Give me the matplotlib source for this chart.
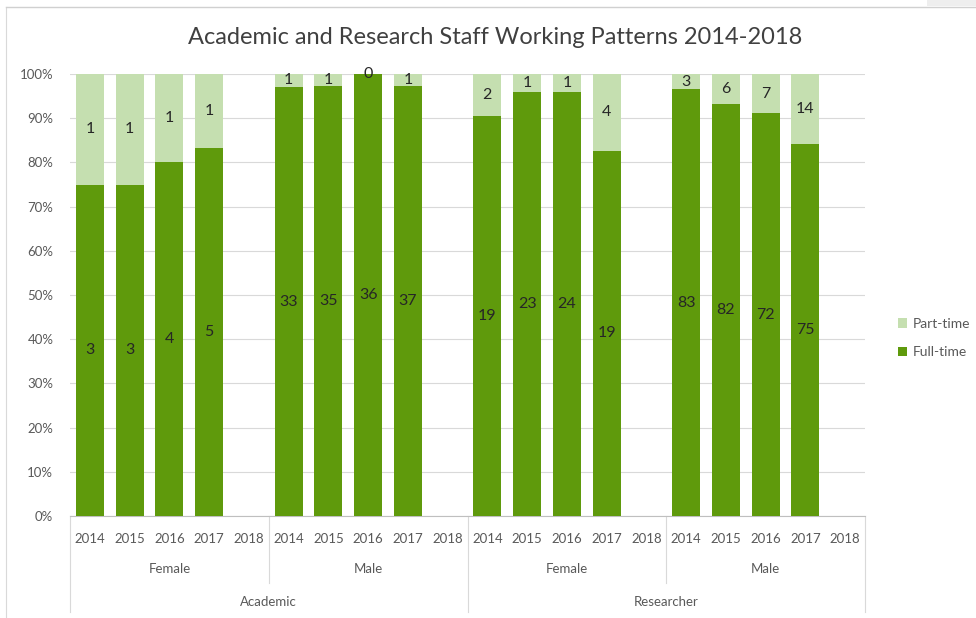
import numpy as np
import matplotlib.pyplot as plt
from matplotlib.lines import Line2D
from matplotlib.patches import Rectangle

plt.rcParams['font.family'] = ['Lato', 'DejaVu Sans']

years = ['2014', '2015', '2016', '2017', '2018']
genders = ['Female', 'Male', 'Female', 'Male']
roles = ['Academic', 'Researcher']

# counts per group (2018 has no data)
full_time = [3, 3, 4, 5, np.nan,
             33, 35, 36, 37, np.nan,
             19, 23, 24, 19, np.nan,
             83, 82, 72, 75, np.nan]
part_time = [1, 1, 1, 1, np.nan,
             1, 1, 0, 1, np.nan,
             2, 1, 1, 4, np.nan,
             3, 6, 7, 14, np.nan]

dark = '#5f9a0c'
light = '#c5dfb0'
grey = '#595959'

ft = np.array(full_time, dtype=float)
pt = np.array(part_time, dtype=float)
tot = ft + pt
ft_pct = ft / tot
pt_pct = pt / tot
x = np.arange(len(ft))

fig = plt.figure(figsize=(9.76, 6.18), dpi=100)
ax = fig.add_axes([70/976, 102/618, 795/976, 442/618])

ax.bar(x, np.nan_to_num(ft_pct), width=0.7, color=dark, label='Full-time', zorder=3)
ax.bar(x, np.nan_to_num(pt_pct), width=0.7, bottom=np.nan_to_num(ft_pct), color=light,
       label='Part-time', zorder=3)

for i in range(len(x)):
    if np.isnan(ft[i]):
        continue
    ax.text(x[i], ft_pct[i] / 2, '%d' % ft[i], ha='center', va='center', fontsize=11.5,
            color='#262626', zorder=4)
    ax.text(x[i], ft_pct[i] + pt_pct[i] / 2, '%d' % pt[i], ha='center', va='center',
            fontsize=11.5, color='#262626', zorder=4)

ax.set_xlim(-0.5, len(x) - 0.5)
ax.set_ylim(0, 1)
ax.set_yticks(np.arange(0, 1.01, 0.1))
ax.set_yticklabels(['%d%%' % round(v * 100) for v in np.arange(0, 1.01, 0.1)])
ax.tick_params(axis='y', length=0, labelsize=9.5, labelcolor=grey, pad=12)
ax.set_xticks(x)
ax.set_xticklabels(years * 4)
ax.tick_params(axis='x', length=0, labelsize=9.5, labelcolor=grey, pad=12)
ax.grid(axis='y', color='#d9d9d9', linewidth=0.8, zorder=0)
for s in ['top', 'right', 'left']:
    ax.spines[s].set_visible(False)
ax.spines['bottom'].set_color('#bfbfbf')

trans = ax.get_xaxis_transform()
for g, name in enumerate(genders):
    ax.text(g * 5 + 2, -0.12, name, transform=trans, ha='center', va='center',
            fontsize=9.5, color=grey)
for r, name in enumerate(roles):
    ax.text(r * 10 + 4.5, -0.195, name, transform=trans, ha='center', va='center',
            fontsize=9.5, color=grey)
for xv, yb in [(-0.5, -0.217), (4.5, -0.152), (9.5, -0.217), (14.5, -0.152), (19.5, -0.217)]:
    ax.add_line(Line2D([xv, xv], [0, yb], transform=trans, color='#d9d9d9',
                       linewidth=0.8, clip_on=False))

handles, labels = ax.get_legend_handles_labels()
fig.legend(handles[::-1], labels[::-1], loc='center left', bbox_to_anchor=(885/976, 1 - 338/618),
           frameon=False, fontsize=10, labelcolor=grey, handlelength=0.7, handleheight=0.7,
           handletextpad=0.4, labelspacing=1.2)

fig.text(495/976, 1 - 38/618, 'Academic and Research Staff Working Patterns 2014-2018',
         ha='center', va='center', fontsize=17, color='#404040')

# outer chart frame (left and top edges only) and grey corner tab
fig.add_artist(Line2D([6/976, 6/976], [0, 1 - 7/618], transform=fig.transFigure,
                      color='#d9d9d9', linewidth=0.8))
fig.add_artist(Line2D([6/976, 1], [1 - 7/618, 1 - 7/618], transform=fig.transFigure,
                      color='#d0d0d0', linewidth=1.0))
fig.add_artist(Rectangle((927/976, 1 - 6/618), 49/976, 6/618, transform=fig.transFigure,
                         facecolor='#eeeeee', edgecolor='none'))

fig.savefig('out.png', dpi=100)
